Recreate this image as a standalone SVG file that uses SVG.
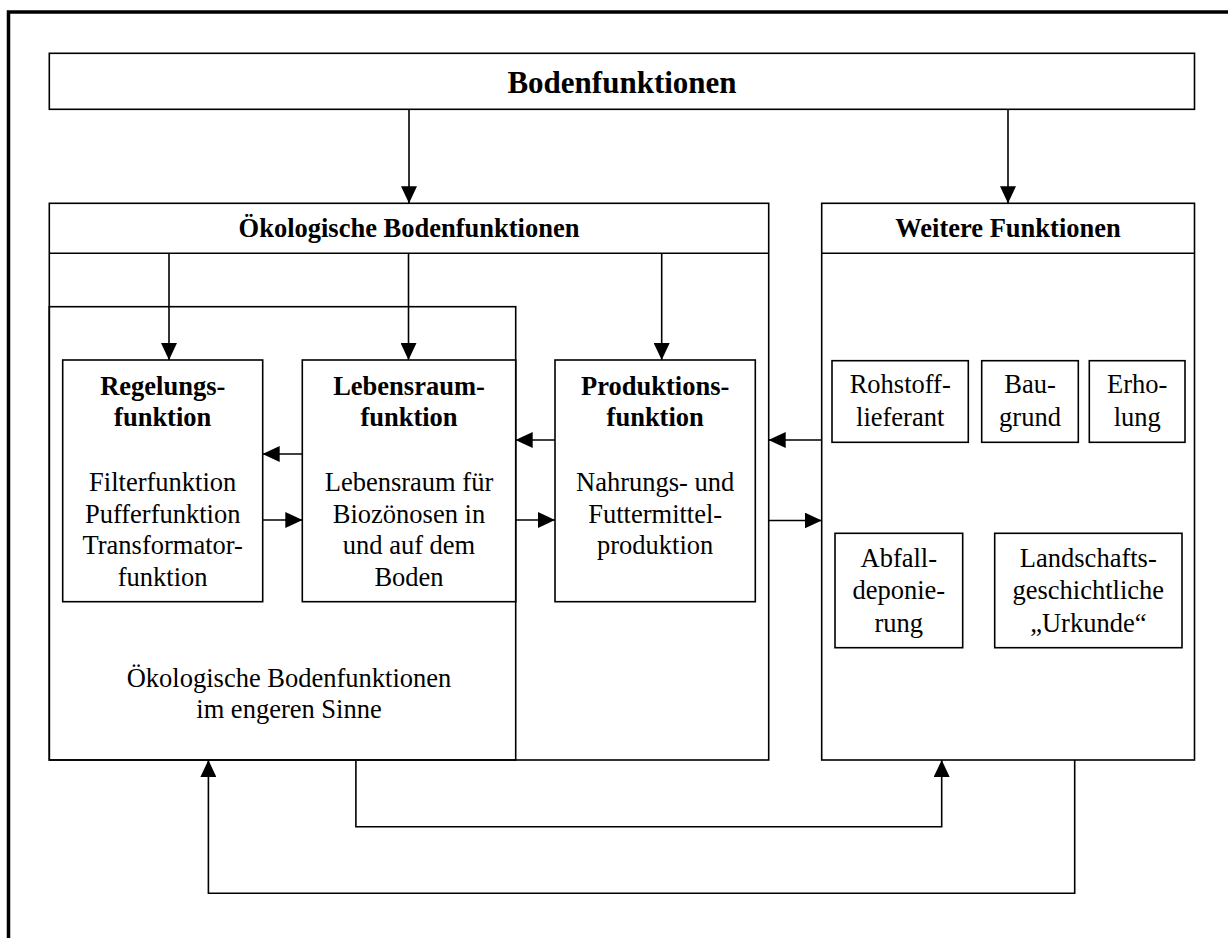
<svg xmlns="http://www.w3.org/2000/svg" width="1228" height="938" viewBox="0 0 1228 938">
<style>
.box{fill:#fff;stroke:#000;stroke-width:1.6}
.ln{fill:none;stroke:#000;stroke-width:1.6}
.t{font-family:"Liberation Serif","Times New Roman",serif;font-size:26.5px;fill:#000;text-anchor:middle}
.b{font-weight:bold}
.title{font-size:31px}
.con{fill:none;stroke:#000;stroke-width:1.6;marker-end:url(#ah)}
</style>
<defs>
<marker id="ah" markerUnits="userSpaceOnUse" viewBox="0 0 17 16" refX="17" refY="8" markerWidth="17" markerHeight="16" orient="auto">
<path d="M0,0 L17,8 L0,16 z" fill="#000"/>
</marker>
</defs>
<rect width="1228" height="938" fill="#fff"/>
<rect id="frame" x="8.5" y="12" width="1240" height="950" fill="none" stroke="#000" stroke-width="3.5"/>

<g id="bodenfunktionen">
<rect class="box" x="49.3" y="53.3" width="1145.2" height="56"/>
<text class="t b title" x="622" y="92.7">Bodenfunktionen</text>
</g>

<g id="oekologische">
<rect class="box" x="49.3" y="203.3" width="719.4" height="556.7"/>
<line class="ln" x1="49.3" y1="253.3" x2="768.7" y2="253.3"/>
<text class="t b" x="409" y="237.3">Ökologische Bodenfunktionen</text>
</g>

<g id="engerer-sinn">
<rect class="ln" x="49.3" y="306.7" width="466.4" height="453.3"/>
<text class="t" x="289" y="687.3">Ökologische Bodenfunktionen</text>
<text class="t" x="289" y="718.3">im engeren Sinne</text>
</g>

<g id="weitere">
<rect class="box" x="821.7" y="203.3" width="372.8" height="556.7"/>
<line class="ln" x1="821.7" y1="253.3" x2="1194.5" y2="253.3"/>
<text class="t b" x="1008" y="237.3">Weitere Funktionen</text>
</g>

<g id="regelung">
<rect class="box" x="62.7" y="360" width="200" height="241.7"/>
<text class="t b" x="162.7" y="395">Regelungs-</text>
<text class="t b" x="162.7" y="426">funktion</text>
<text class="t" x="162.7" y="490.7">Filterfunktion</text>
<text class="t" x="162.7" y="522.5">Pufferfunktion</text>
<text class="t" x="162.7" y="554.3">Transformator-</text>
<text class="t" x="162.7" y="586">funktion</text>
</g>

<g id="lebensraum">
<rect class="box" x="302.3" y="360" width="213.4" height="241.7"/>
<text class="t b" x="409" y="395">Lebensraum-</text>
<text class="t b" x="409" y="426">funktion</text>
<text class="t" x="409" y="490.7">Lebensraum für</text>
<text class="t" x="409" y="522.5">Biozönosen in</text>
<text class="t" x="409" y="554.3">und auf dem</text>
<text class="t" x="409" y="586">Boden</text>
</g>

<g id="produktion">
<rect class="box" x="555" y="360" width="200.3" height="241.7"/>
<text class="t b" x="655.2" y="395">Produktions-</text>
<text class="t b" x="655.2" y="426">funktion</text>
<text class="t" x="655.2" y="490.7">Nahrungs- und</text>
<text class="t" x="655.2" y="522.5">Futtermittel-</text>
<text class="t" x="655.2" y="554.3">produktion</text>
</g>

<g id="rohstoff">
<rect class="box" x="832" y="360.7" width="136.3" height="81.6"/>
<text class="t" x="900.2" y="393.3">Rohstoff-</text>
<text class="t" x="900.2" y="426">lieferant</text>
</g>

<g id="baugrund">
<rect class="box" x="981.7" y="360.7" width="96.6" height="81.6"/>
<text class="t" x="1030" y="393.3">Bau-</text>
<text class="t" x="1030" y="426">grund</text>
</g>

<g id="erholung">
<rect class="box" x="1089.3" y="360.7" width="95.7" height="81.6"/>
<text class="t" x="1137.2" y="393.3">Erho-</text>
<text class="t" x="1137.2" y="426">lung</text>
</g>

<g id="abfall">
<rect class="box" x="835" y="533.3" width="127.7" height="114.4"/>
<text class="t" x="898.8" y="567.3">Abfall-</text>
<text class="t" x="898.8" y="599.3">deponie-</text>
<text class="t" x="898.8" y="631.5">rung</text>
</g>

<g id="landschaft">
<rect class="box" x="994.7" y="533.3" width="187.3" height="114.4"/>
<text class="t" x="1088.3" y="567.3">Landschafts-</text>
<text class="t" x="1088.3" y="599.3">geschichtliche</text>
<text class="t" x="1088.3" y="631.5">„Urkunde“</text>
</g>

<g id="connectors">
<path class="con" d="M409,109.3 V203.3"/>
<path class="con" d="M1008,109.3 V203.3"/>
<path class="con" d="M169,253.3 V360"/>
<path class="con" d="M408.5,253.3 V360"/>
<path class="con" d="M661.7,253.3 V360"/>
<path class="con" d="M302.3,454 H262.7"/>
<path class="con" d="M262.7,520 H302.3"/>
<path class="con" d="M555,440 H515.7"/>
<path class="con" d="M515.7,520 H555"/>
<path class="con" d="M821.7,440 H768.7"/>
<path class="con" d="M768.7,520.5 H821.7"/>
<path class="con" d="M355.9,760 V826.7 H941.7 V760"/>
<path class="con" d="M1074.7,760 V893.3 H208.4 V760"/>
</g>
</svg>
